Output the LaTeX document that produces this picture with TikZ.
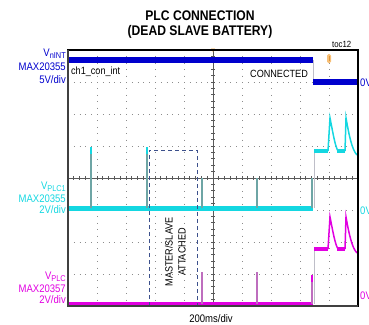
\documentclass[tikz,border=0pt]{standalone}
\usepackage{fontspec}
\setmainfont{Liberation Sans}
\newfontfamily\narrowfont[FakeStretch=0.87]{Liberation Sans}
\usepackage{tikz}

\definecolor{chblue}{RGB}{0,0,205}
\definecolor{chcyan}{RGB}{20,215,225}
\definecolor{chmagenta}{RGB}{225,0,225}
\definecolor{spiketeal}{RGB}{110,165,165}
\definecolor{spikepink}{RGB}{190,110,190}
\definecolor{gridgray}{RGB}{140,140,140}
\definecolor{edgegray}{RGB}{190,190,200}
\definecolor{boxblue}{RGB}{60,80,140}
\definecolor{trigorange}{RGB}{245,165,60}

\newcommand{\chsub}[1]{\raisebox{-2bp}{\fontsize{8.5}{9}\selectfont #1}}

\tikzset{
  vgrid/.style={gridgray, line width=1bp, dash pattern=on 1bp off 5.4bp},
  hgrid/.style={gridgray, line width=1bp, dash pattern=on 1bp off 4.8bp},
  axisline/.style={black!65, line width=0.9bp},
  chlabel/.style={anchor=base east, inner sep=0pt, font=\narrowfont\fontsize{11}{12}\selectfont},
  plotlabel/.style={inner sep=0pt, font=\narrowfont\fontsize{10.5}{12}\selectfont},
  boxdash/.style={boxblue, line width=1bp, dash pattern=on 4bp off 3bp}
}

\begin{document}
\begin{tikzpicture}[x=1bp,y=-1bp]
\useasboundingbox (0,0) rectangle (369,325);

% title
\node (title1) [anchor=base, inner sep=0pt, font=\narrowfont\bfseries\fontsize{14}{16}\selectfont] at (200,20) {PLC CONNECTION};
\node (title2) [anchor=base, inner sep=0pt, font=\narrowfont\bfseries\fontsize{14}{16}\selectfont] at (200,35) {(DEAD SLAVE BATTERY)};
\node (toc) [anchor=base west, inner sep=0pt, font=\narrowfont\fontsize{9}{10}\selectfont] at (332,47) {toc12};

% grid
\foreach \gx in {1,2,3,4,6,7,8,9}
  \draw[vgrid] ({68+29*\gx},50) -- ({68+29*\gx},306);
\foreach \gy in {1,2,3,5,6,7}
  \draw[hgrid] (68,{50+32*\gy}) -- (358,{50+32*\gy});
\draw[axisline] (213,50) -- (213,306);
\draw[axisline] (68,178) -- (358,178);
\foreach \t in {1,...,49}
  \draw[axisline] ({68+5.8*\t},176) -- ({68+5.8*\t},180);
\foreach \t in {1,...,39}
  \draw[axisline] (211,{50+6.4*\t}) -- (215,{50+6.4*\t});

% channel 1
\draw[chblue, line width=5.5bp] (68,60) -- (313,60);
\draw[edgegray, line width=0.8bp] (313.5,60) -- (313.5,82);
\draw[chblue, line width=5.5bp] (313,82) -- (358,82);

% channel 2
\draw[chcyan, line width=5bp] (68,208) -- (313,208);
\foreach \sx/\sy in {91/148,147/148,202/178,257/178,312/178}
  \draw[spiketeal, line width=1.2bp] (\sx,208) -- (\sx,\sy);
\draw[chcyan, line width=1.2bp] (91,147) -- (91,154);
\draw[chcyan, line width=1.2bp] (147,147) -- (147,154);
\draw[edgegray, line width=0.8bp] (314,208) -- (314,151);
\draw[chcyan, line width=4.5bp] (314,151) -- (328,151);
\draw[chcyan, line width=4.5bp] (337,151) -- (345,151);
\draw[chcyan, line width=1.5bp] (328,151) -- (330,118) .. controls (333,133) and (335,146) .. (338,151);
\draw[chcyan, line width=1.5bp] (345,151) -- (346,118) .. controls (349,135) and (352,150) .. (357,155);

% channel 3
\draw[chmagenta, line width=3.5bp] (68,304) -- (313,304);
\foreach \sx/\sy in {202/272,257/272,312/275}
  \draw[spikepink, line width=1.2bp] (\sx,304) -- (\sx,\sy);
\draw[chmagenta, line width=1.2bp] (312,275) -- (312,282);
\draw[edgegray, line width=0.8bp] (314,304) -- (314,249);
\draw[chmagenta, line width=4.5bp] (314,249) -- (328,249);
\draw[chmagenta, line width=4.5bp] (337,249) -- (345,249);
\draw[chmagenta, line width=1.5bp] (328,249) -- (330,217) .. controls (333,232) and (335,244) .. (338,249);
\draw[chmagenta, line width=1.5bp] (345,249) -- (346,217) .. controls (349,234) and (352,248) .. (357,253);

% attach window
\draw[boxdash] (149,306) -- (149,150) -- (197,150) -- (197,306);
\node (master) [plotlabel, rotate=90] at (169,252) {MASTER/SLAVE};
\node (attached) [plotlabel, rotate=90] at (182,252) {ATTACHED};

% markers
\fill[trigorange] (211,48.5) -- (215,48.5) -- (213,52) -- cycle;
\fill[trigorange!70, rounded corners=1.5bp] (327,54) rectangle (331,63);
\fill[trigorange!90!black] (328.5,56) rectangle (329.5,61);

% frame
\draw[black, line width=1.3bp] (68,50) rectangle (358,306);
\draw[black!75, line width=2.2bp] (68,50) -- (68,306) -- (358,306);

% texts in plot
\node (chname) [plotlabel, anchor=base west] at (71,74) {ch1\_con\_int};
\node (conn) [plotlabel, anchor=base west] at (250,77.5) {CONNECTED};
\node (tdiv) [plotlabel, anchor=base, font=\narrowfont\fontsize{11}{12}\selectfont] at (211,322) {200ms/div};

% channel labels
\node (vnint) [chlabel, chblue] at (66,56.5) {V\chsub{nINT}};
\node (ic1) [chlabel, chblue] at (66,70) {MAX20355};
\node (div1) [chlabel, chblue] at (66,83) {5V/div};
\node (zero1) [chlabel, chblue, anchor=base west] at (360,86) {0V};

\node (vplc1) [chlabel, chcyan] at (66,189.5) {V\chsub{PLC1}};
\node (ic2) [chlabel, chcyan] at (66,202) {MAX20355};
\node (div2) [chlabel, chcyan] at (66,213) {2V/div};
\node (zero2) [chlabel, chcyan, anchor=base west] at (360,214) {0V};

\node (vplc) [chlabel, chmagenta] at (66,279.5) {V\chsub{PLC}};
\node (ic3) [chlabel, chmagenta] at (66,292) {MAX20357};
\node (div3) [chlabel, chmagenta] at (66,303) {2V/div};
\node (zero3) [chlabel, chmagenta, anchor=base west] at (360,299) {0V};
\end{tikzpicture}
\end{document}
